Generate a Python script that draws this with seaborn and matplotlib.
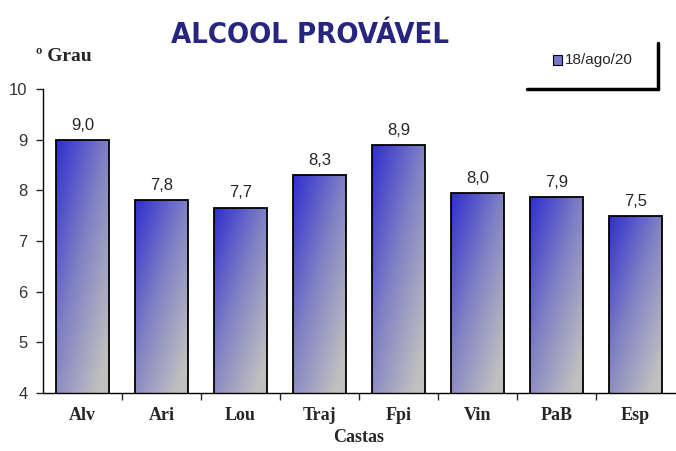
import numpy as np
import pandas as pd
import seaborn as sns
import matplotlib.pyplot as plt
from matplotlib.colors import LinearSegmentedColormap
from matplotlib.lines import Line2D
from matplotlib.patches import Rectangle

# Alcool provavel por casta
castas = ["Alv", "Ari", "Lou", "Traj", "Fpi", "Vin", "PaB", "Esp"]
grau = [9.0, 7.8, 7.66, 8.3, 8.9, 7.95, 7.86, 7.5]
data_label = "18/ago/20"

df = pd.DataFrame({"Castas": castas, "Grau": grau})

sns.set_style("white")
plt.rcParams["font.family"] = ["Liberation Sans", "DejaVu Sans"]
serif = ["Liberation Serif", "DejaVu Serif"]

fig = plt.figure(figsize=(6.76, 4.51), dpi=100)
ax = fig.add_axes([0.0636, 0.1286, 0.935, 0.6740])

sns.barplot(data=df, x="Castas", y="Grau", ax=ax, width=0.66,
            edgecolor="black", linewidth=1.3, color="white")

# diagonal gradient inside every bar
cmap = LinearSegmentedColormap.from_list("grad", ["#2f2fd0", "#8080c4", "#c0c0c0"])
yy, xx = np.mgrid[0:1:100j, 0:1:40j]
grad = 0.5 * xx + 0.6 * yy
for p in ax.patches:
    x0, y0 = p.get_x(), p.get_y()
    w, h = p.get_width(), p.get_height()
    im = ax.imshow(grad, cmap=cmap, extent=[x0, x0 + w, 4, y0 + h],
                   origin="upper", aspect="auto", zorder=p.get_zorder() - 0.1,
                   vmin=0, vmax=1.0)
    im.set_clip_path(p)
    p.set_facecolor("none")
    p.set_zorder(3)

for i, v in enumerate(grau):
    ax.text(i, v + 0.14, f"{v:.1f}".replace(".", ","), ha="center", va="bottom",
            fontsize=12)

ax.set_xlim(-0.5, len(castas) - 0.5)
ax.set_ylim(4, 10)
ax.set_yticks(range(4, 11))
ax.tick_params(axis="y", left=True, length=5, width=1, labelsize=12, pad=6,
               labelcolor="#333333")
ax.set_xticks(np.arange(len(castas)))
ax.set_xticklabels(castas, family=serif, fontweight="bold", fontsize=13)
ax.set_xticks(np.arange(0.5, len(castas) - 0.5), minor=True)
ax.tick_params(axis="x", which="major", length=0, pad=10)
ax.tick_params(axis="x", which="minor", bottom=True, length=5, width=1)
ax.set_xlabel("Castas", family=serif, fontweight="bold", fontsize=13, labelpad=4)
ax.set_ylabel("")
for s in ["top", "right"]:
    ax.spines[s].set_visible(False)
for s in ["left", "bottom"]:
    ax.spines[s].set_color("black")
    ax.spines[s].set_linewidth(1)

fig.text(0.053, 0.874, "º Grau", family=serif, fontweight="bold", fontsize=14,
         ha="left", va="center")

fig.text(0.4586, 0.922, "ALCOOL PROVÁVEL", family=["DejaVu Sans"],
         fontstretch="condensed", fontweight="bold", fontsize=21,
         color="#262680", ha="center", va="center")

# legend box with shadow lines
fig.add_artist(Rectangle((0.8185, 0.855), 0.013, 0.024, transform=fig.transFigure,
                         facecolor="#7878c8", edgecolor="black", linewidth=0.8))
fig.text(0.836, 0.866, data_label, fontsize=11, ha="left", va="center")
fig.add_artist(Line2D([0.973, 0.973], [0.802, 0.905], transform=fig.transFigure,
                      color="black", linewidth=2.5))
fig.add_artist(Line2D([0.779, 0.973], [0.802, 0.802], transform=fig.transFigure,
                      color="black", linewidth=2.5))

fig.savefig("out.png", dpi=100)
